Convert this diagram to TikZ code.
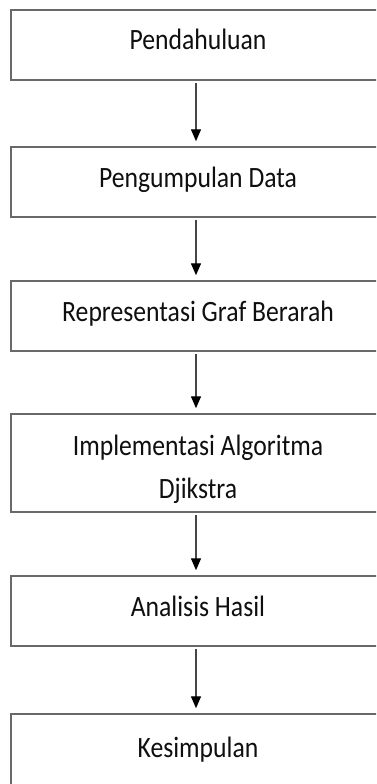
\documentclass[tikz,border=0pt]{standalone}
\usepackage{fontspec}
\setmainfont{Carlito}[FakeStretch=0.87]
\usetikzlibrary{arrows.meta}
\definecolor{boxline}{RGB}{105,105,105}
\definecolor{arrline}{RGB}{70,70,70}
\definecolor{txt}{RGB}{15,15,15}
\tikzset{
  stepbox/.style={draw=boxline, line width=1.5bp, rectangle, minimum width=374bp,
    inner sep=0pt, text=txt, font=\fontsize{29.5bp}{43bp}\selectfont,
    text height=10bp, text depth=0bp},
  flowarr/.style={draw=arrline, line width=1.4bp,
    -{Triangle[width=10bp,length=12bp,color=black]}, shorten <=2bp, shorten >=5bp}
}
\begin{document}
\begin{tikzpicture}[x=1bp,y=-1bp]
\useasboundingbox (0,0) rectangle (376,784);
\clip (0,0) rectangle (376,784);
\fill[white] (0,0) rectangle (376,784);
\node[stepbox, minimum height=70bp] (b1) at (198,45) {Pendahuluan};
\node[stepbox, minimum height=70bp] (b2) at (198,182) {Pengumpulan Data};
\node[stepbox, minimum height=70bp] (b3) at (198,316) {Representasi Graf Berarah};
\node[stepbox, minimum height=98bp, text height=0bp, text depth=16bp] (b4) at (198,463)
  {\begin{tabular}[t]{@{}c@{}}Implementasi Algoritma\\Djikstra\end{tabular}};
\node[stepbox, minimum height=70bp] (b5) at (198,611) {Analisis Hasil};
\node[stepbox, minimum height=76bp] (b6) at (198,752) {Kesimpulan};
\draw[flowarr] ([xshift=-2bp]b1.south) -- ([xshift=-2bp]b2.north);
\draw[flowarr] ([xshift=-2bp]b2.south) -- ([xshift=-2bp]b3.north);
\draw[flowarr] ([xshift=-2bp]b3.south) -- ([xshift=-2bp]b4.north);
\draw[flowarr] ([xshift=-2bp]b4.south) -- ([xshift=-2bp]b5.north);
\draw[flowarr] ([xshift=-2bp]b5.south) -- ([xshift=-2bp]b6.north);
\end{tikzpicture}
\end{document}
